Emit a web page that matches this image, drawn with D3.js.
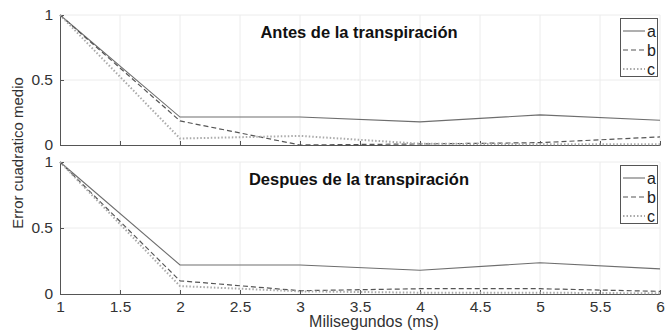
<!DOCTYPE html>
<html>
<head>
<meta charset="utf-8">
<script src="https://cdn.jsdelivr.net/npm/d3@7"></script>
<style>
  body { margin: 0; background: #fff; }
  text { font-family: "Liberation Sans", Arial, sans-serif; }
</style>
</head>
<body>
<div id="chart"></div>
<script>
// data
var xVals = [1, 2, 3, 4, 5, 6];
var antesA = [1, 0.215, 0.215, 0.178, 0.232, 0.19];
var antesB = [1, 0.185, 0.0, 0.008, 0.018, 0.062];
var antesC = [1, 0.05, 0.07, 0.01, 0.006, 0.005];
var despA = [1, 0.22, 0.22, 0.18, 0.237, 0.19];
var despB = [1, 0.1, 0.025, 0.04, 0.04, 0.02];
var despC = [1, 0.06, 0.02, 0.01, 0.01, 0.005];
var xTicks = [1, 1.5, 2, 2.5, 3, 3.5, 4, 4.5, 5, 5.5, 6];
var yTicks = [0, 0.5, 1];
var seriesNames = ['a', 'b', 'c'];

var svgWidth = 665;
var svgHeight = 331;

var svg = d3.select('#chart')
  .append('svg')
  .attr('width', svgWidth)
  .attr('height', svgHeight);

var xScale = d3.scaleLinear().domain([1, 6]).range([60, 660]);

// line styles for a, b, c
var styles = [
  { stroke: '#6e6e6e', width: 1.1, dash: null },
  { stroke: '#555', width: 1.2, dash: '5,3' },
  { stroke: '#aaa', width: 2, dash: '1.5,2' }
];

function drawPanel(top, bottom, title, titleY, series, legendY, showXLabels) {
  var yScale = d3.scaleLinear().domain([0, 1]).range([bottom, top]);
  var g = svg.append('g');

  // grid
  g.selectAll('.vgrid')
    .data(xTicks.slice(1))
    .enter()
    .append('line')
    .attr('x1', (d) => xScale(d))
    .attr('x2', (d) => xScale(d))
    .attr('y1', top)
    .attr('y2', bottom)
    .attr('stroke', '#ececec');
  g.selectAll('.hgrid')
    .data(yTicks.slice(1))
    .enter()
    .append('line')
    .attr('x1', 60)
    .attr('x2', 660)
    .attr('y1', (d) => yScale(d))
    .attr('y2', (d) => yScale(d))
    .attr('stroke', '#ececec');

  // axes
  var bottomAxis = d3.axisBottom(xScale)
    .tickValues(xTicks)
    .tickSizeInner(-4)
    .tickSizeOuter(0)
    .tickPadding(7)
    .tickFormat(showXLabels ? d3.format('') : '');
  var xAxis = g.append('g')
    .attr('transform', `translate(0, ${bottom})`)
    .call(bottomAxis);
  xAxis.select('.domain').attr('stroke', '#555');
  xAxis.selectAll('.tick line').attr('stroke', '#555');
  xAxis.selectAll('text')
    .attr('font-size', 15.5)
    .attr('fill', '#333');

  var leftAxis = d3.axisLeft(yScale)
    .tickValues(yTicks)
    .tickSizeInner(-4)
    .tickSizeOuter(0)
    .tickPadding(7)
    .tickFormat(d3.format(''));
  var yAxis = g.append('g')
    .attr('transform', 'translate(60, 0)')
    .call(leftAxis);
  yAxis.select('.domain').attr('stroke', '#555');
  yAxis.selectAll('.tick line').attr('stroke', '#555');
  yAxis.selectAll('text')
    .attr('font-size', 15.5)
    .attr('fill', '#333');

  // lines
  var line = d3.line()
    .x((d, i) => xScale(xVals[i]))
    .y((d) => yScale(d));
  series.forEach(function (s, i) {
    g.append('path')
      .datum(s)
      .attr('d', line)
      .attr('fill', 'none')
      .attr('stroke', styles[i].stroke)
      .attr('stroke-width', styles[i].width)
      .attr('stroke-dasharray', styles[i].dash);
  });

  // title
  g.append('text')
    .attr('x', 359)
    .attr('y', titleY)
    .attr('text-anchor', 'middle')
    .attr('font-size', 16.5)
    .attr('font-weight', 'bold')
    .attr('fill', '#111')
    .text(title);

  // legend
  var legend = g.append('g');
  legend.append('rect')
    .attr('x', 620.5)
    .attr('y', legendY + 0.5)
    .attr('width', 37)
    .attr('height', 58)
    .attr('fill', '#fff')
    .attr('stroke', '#555');
  seriesNames.forEach(function (name, i) {
    var ly = legendY + 13 + i * 19;
    legend.append('line')
      .attr('x1', 623)
      .attr('x2', 645)
      .attr('y1', ly)
      .attr('y2', ly)
      .attr('stroke', styles[i].stroke)
      .attr('stroke-width', styles[i].width)
      .attr('stroke-dasharray', styles[i].dash);
    legend.append('text')
      .attr('x', 647)
      .attr('y', ly + 5.5)
      .attr('font-size', 16)
      .attr('fill', '#222')
      .text(name);
  });
}

drawPanel(15, 145, 'Antes de la transpiración', 38, [antesA, antesB, antesC], 18, false);
drawPanel(162, 294, 'Despues de la transpiración', 185, [despA, despB, despC], 165, true);

// axis labels
svg.append('text')
  .attr('x', 374)
  .attr('y', 327)
  .attr('text-anchor', 'middle')
  .attr('font-size', 16)
  .attr('fill', '#333')
  .text('Milisegundos (ms)');

svg.append('text')
  .attr('transform', 'translate(23, 153) rotate(-90)')
  .attr('text-anchor', 'middle')
  .attr('font-size', 15)
  .attr('fill', '#333')
  .text('Error cuadratico medio');
</script>
</body>
</html>
